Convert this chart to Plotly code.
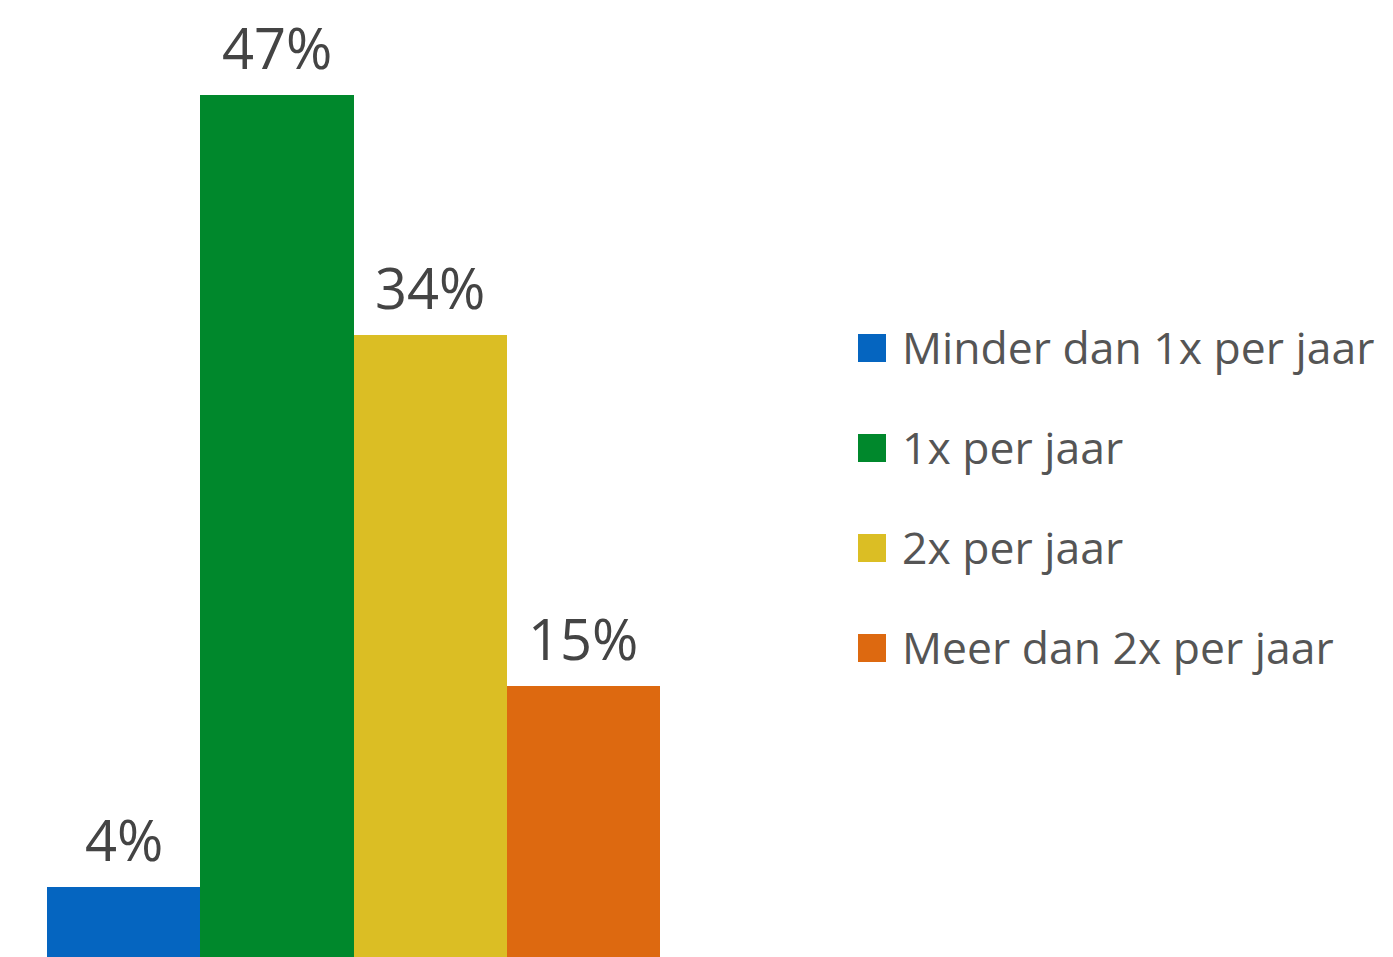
import plotly.graph_objects as go

categories = ["Minder dan 1x per jaar", "1x per jaar", "2x per jaar", "Meer dan 2x per jaar"]
values = [3.8, 47, 33.9, 14.8]
labels = ["4%", "47%", "34%", "15%"]
colors = ["#0565C0", "#00882C", "#DBBE24", "#DD6910"]

OFF = 8  # page body margin offset
W, H = 1393, 957
L, R, T, B = 47 - OFF, 733 + OFF, 0, OFF
plot_w = W - L - R
plot_h = H - T - B

fig = go.Figure()
fig.add_trace(go.Bar(
    x=categories, y=values, marker=dict(color=colors, line=dict(width=0)),
    showlegend=False, hoverinfo="x+y", cliponaxis=False,
))

for c, v, t in zip(categories, values, labels):
    fig.add_annotation(x=c, y=v, text=t, showarrow=False, yanchor="bottom", yshift=9,
                       borderpad=0,
                       font=dict(family="Open Sans", size=56, color="#444444"))

def px_x(px):
    return (px - OFF - L) / plot_w

def px_y(py):
    return 1 - (py - OFF - T) / plot_h

# legend (manual, larger swatches)
leg_x0, sw = 858, 28
leg_y0, leg_dy = 348, 100
for i, (c, col) in enumerate(zip(categories, colors)):
    cy = leg_y0 + i * leg_dy
    fig.add_shape(type="rect", xref="paper", yref="paper",
                  x0=px_x(leg_x0), x1=px_x(leg_x0 + sw),
                  y0=px_y(cy + sw / 2), y1=px_y(cy - sw / 2),
                  fillcolor=col, line=dict(width=0))
    fig.add_annotation(xref="paper", yref="paper", x=px_x(900), y=px_y(cy - 2),
                       xanchor="left", yanchor="middle", text=c, showarrow=False,
                       font=dict(family="Open Sans", size=44.5, color="#555555"))

fig.update_layout(
    width=W, height=H,
    margin=dict(l=L, r=R, t=T, b=B),
    plot_bgcolor="white", paper_bgcolor="white",
    bargap=0,
    xaxis=dict(visible=False),
    yaxis=dict(visible=False, range=[0, plot_h / 18.34]),
)
fig.write_html("out.html")
